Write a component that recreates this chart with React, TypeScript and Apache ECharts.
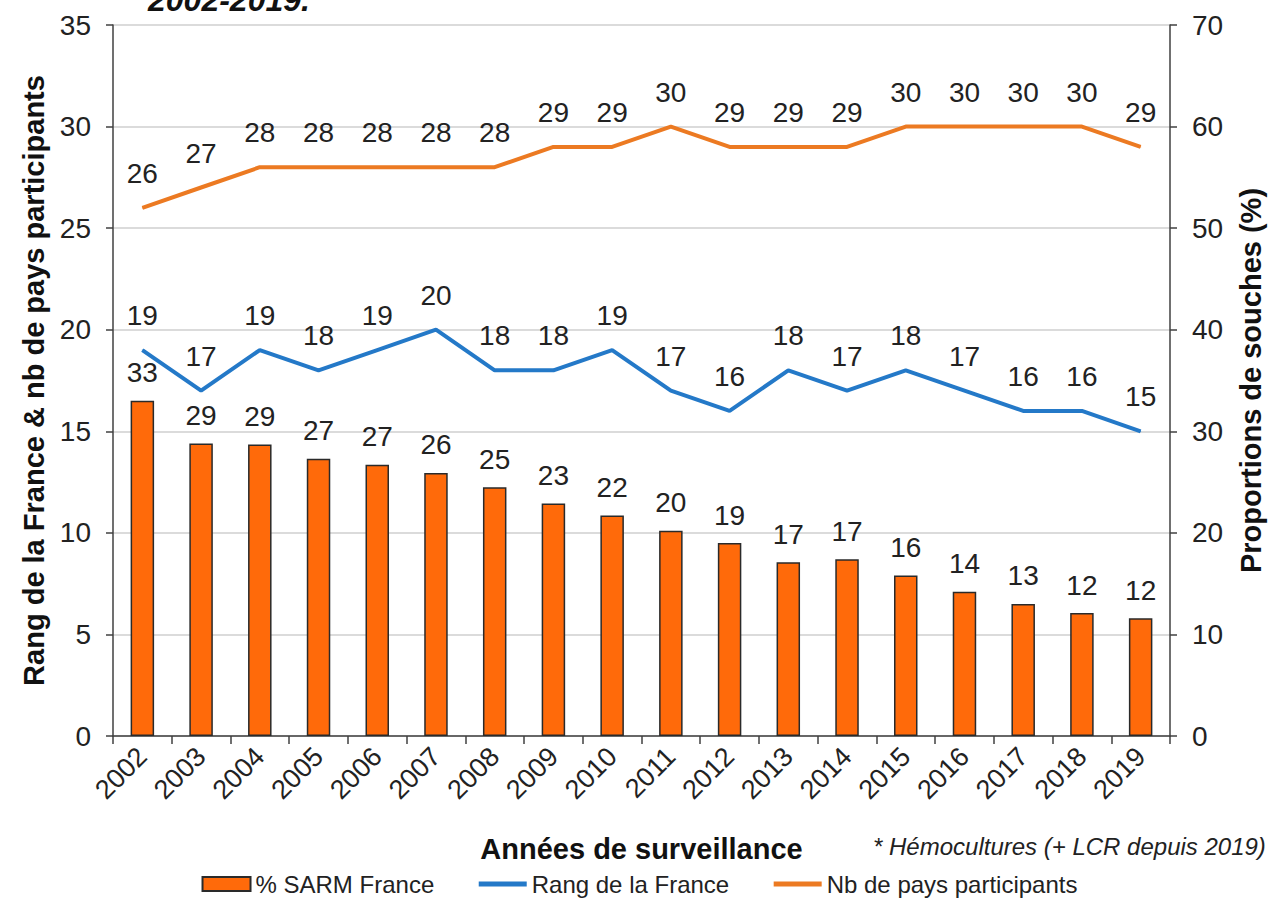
import React, { useEffect, useRef } from "react";
import * as echarts from "echarts";

const years = ["2002","2003","2004","2005","2006","2007","2008","2009","2010","2011","2012","2013","2014","2015","2016","2017","2018","2019"];
const sarmPct = [33, 28.8, 28.7, 27.3, 26.7, 25.9, 24.5, 22.9, 21.7, 20.2, 19.0, 17.1, 17.4, 15.8, 14.2, 13.0, 12.1, 11.6];
const rangFrance = [19, 17, 19, 18, 19, 20, 18, 18, 19, 17, 16, 18, 17, 18, 17, 16, 16, 15];
const nbPays = [26, 27, 28, 28, 28, 28, 28, 29, 29, 30, 29, 29, 29, 30, 30, 30, 30, 29];

const FONT = "Liberation Sans, Arial, sans-serif";
const AX = "#404040";

export default function App() {
  const ref = useRef<HTMLDivElement>(null);
  useEffect(() => {
    document.body.style.margin = "0";
    const chart = echarts.init(ref.current!, null, { renderer: "svg" });
    chart.setOption({
      animation: false,
      textStyle: { fontFamily: FONT },
      grid: { left: 113, right: 109, top: 25, bottom: 167, containLabel: false },
      legend: {
        bottom: 2,
        left: "center",
        itemGap: 42,
        itemWidth: 48,
        itemHeight: 14,
        textStyle: { fontSize: 24, color: "#222", fontFamily: FONT },
        data: [
          { name: "% SARM France", icon: "rect" },
          { name: "Rang de la France", itemStyle: { opacity: 0 }, lineStyle: { width: 5 } },
          { name: "Nb de pays participants", itemStyle: { opacity: 0 }, lineStyle: { width: 5 } },
        ],
      },
      xAxis: {
        type: "category",
        data: years,
        boundaryGap: true,
        name: "Années de surveillance",
        nameLocation: "middle",
        nameGap: 98,
        nameTextStyle: { fontSize: 29, fontWeight: "bold", color: "#111", fontFamily: FONT },
        axisLine: { lineStyle: { color: AX, width: 1.5 } },
        axisTick: { show: true, length: 8, lineStyle: { color: AX, width: 1.5 }, alignWithLabel: false },
        axisLabel: { rotate: 45, fontSize: 27, color: "#222", margin: 16, interval: 0 },
      },
      yAxis: [
        {
          type: "value",
          min: 0,
          max: 35,
          interval: 5,
          position: "left",
          name: "Rang de la France & nb de pays participants",
          nameLocation: "middle",
          nameGap: 63,
          nameRotate: 90,
          nameTextStyle: { fontSize: 29, fontWeight: "bold", color: "#111", fontFamily: FONT },
          axisLine: { show: true, lineStyle: { color: AX, width: 1.5 } },
          axisTick: { show: true, length: 7, lineStyle: { color: AX, width: 1.5 } },
          axisLabel: { fontSize: 28, color: "#222", margin: 22 },
          splitLine: { show: true, lineStyle: { color: "#cfcfcf", width: 1.5 } },
        },
        {
          type: "value",
          min: 0,
          max: 70,
          interval: 10,
          position: "right",
          name: "Proportions de souches (%)",
          nameLocation: "middle",
          nameGap: 66,
          nameRotate: 90,
          nameTextStyle: { fontSize: 29, fontWeight: "bold", color: "#111", fontFamily: FONT },
          axisLine: { show: true, lineStyle: { color: AX, width: 1.5 } },
          axisTick: { show: true, length: 7, lineStyle: { color: AX, width: 1.5 } },
          axisLabel: { fontSize: 28, color: "#222", margin: 22 },
          splitLine: { show: false },
        },
      ],
      series: [
        {
          name: "% SARM France",
          type: "bar",
          yAxisIndex: 1,
          data: sarmPct,
          barWidth: "40%",
          itemStyle: { color: "#FF6A0A", borderColor: "#2a2a2a", borderWidth: 1.5 },
          label: {
            show: true,
            position: "top",
            distance: 14,
            fontSize: 28,
            color: "#222",
            formatter: (p: any) => String(Math.round(p.value)),
          },
          z: 2,
        },
        {
          name: "Rang de la France",
          type: "line",
          yAxisIndex: 0,
          data: rangFrance,
          symbol: "circle",
          symbolSize: 1,
          showSymbol: true,
          lineStyle: { color: "#2479C8", width: 4 },
          itemStyle: { color: "#2479C8" },
          label: { show: true, position: "top", distance: 20, fontSize: 28, color: "#222" },
          z: 3,
        },
        {
          name: "Nb de pays participants",
          type: "line",
          yAxisIndex: 0,
          data: nbPays,
          symbol: "circle",
          symbolSize: 1,
          showSymbol: true,
          lineStyle: { color: "#EC7A22", width: 4 },
          itemStyle: { color: "#EC7A22" },
          label: { show: true, position: "top", distance: 20, fontSize: 28, color: "#222" },
          z: 3,
        },
      ],
      graphic: [
        {
          type: "text",
          left: 148,
          top: -16,
          style: { text: "2002-2019.", font: "italic bold 32px " + FONT, fill: "#111" },
        },
        {
          type: "text",
          left: 873,
          top: 834,
          style: { text: "* Hémocultures (+ LCR depuis 2019)", font: "italic 24px " + FONT, fill: "#222" },
        },
      ],
    });
    return () => chart.dispose();
  }, []);
  return <div ref={ref} style={{ width: 1279, height: 903 }} />;
}
